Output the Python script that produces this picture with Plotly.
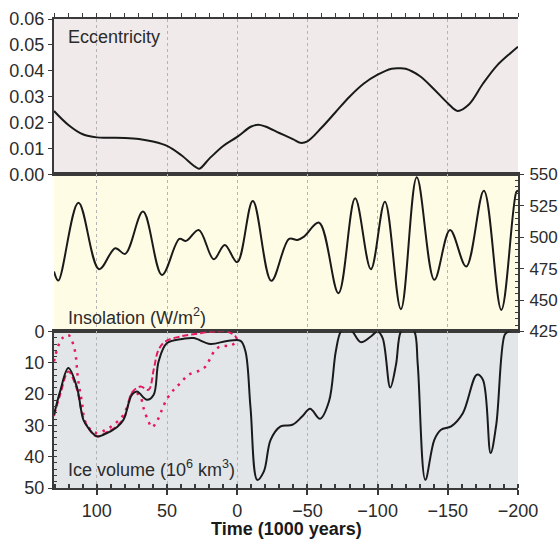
import plotly.graph_objects as go

# ---------------- data ----------------
ecc_t = [130.5, 120, 110, 100, 90, 80, 70, 60, 50, 40, 30, 27, 20, 10, 0, -10, -15, -20, -30, -40,
         -45, -50, -60, -70, -80, -90, -100, -110, -115, -120, -130, -140, -150, -157, -165, -175,
         -185, -195, -200]
ecc_v = [0.0245, 0.019, 0.0155, 0.0143, 0.0142, 0.0141, 0.0137, 0.0127, 0.011, 0.0075, 0.003, 0.0022,
         0.006, 0.011, 0.0145, 0.0185, 0.0192, 0.0185, 0.016, 0.0135, 0.0122, 0.0128, 0.018, 0.024,
         0.030, 0.035, 0.0385, 0.0408, 0.041, 0.0408, 0.038, 0.033, 0.0275, 0.0245, 0.027, 0.035,
         0.042, 0.047, 0.0493]

ins_t = [130.5, 127.4, 113.1, 98.4, 86.9, 79.8, 67.1, 53.6, 41.2, 36.4, 27.4, 16.7, 8.9, 0, -11.1,
         -24.3, -36.9, -42.9, -47.6, -58.3, -72.1, -84, -95.2, -105.2, -116.6, -127.9, -140.4,
         -151.6, -163.1, -175.7, -188.1, -198.8, -200]
ins_v = [472.7, 465.5, 527.5, 474.6, 491.3, 486.8, 520.4, 470, 498.7, 497.1, 505.8, 482.5, 493.9,
         480.2, 528.9, 465.3, 498.7, 497.9, 500.5, 511.6, 455.5, 531, 474.6, 528.3, 442.8, 547.7,
         466.1, 505.8, 476.7, 537, 442.2, 536, 537]

ice_t = [130.5, 126.2, 120.3, 114.3, 109.6, 106, 100, 95.3, 85.7, 81, 75, 71.4, 64.3, 59.5, 56, 50,
         38.1, 31, 19.1, 7.1, -2.4, -5.9, -9.5, -14.3, -19, -23.8, -30.9, -39.3, -46.4, -51.9, -59,
         -65.4, -70.2, -73.8, -78, -82.1, -88, -95.2, -100, -103.6, -109, -113.1, -116.6, -121.5,
         -126.2, -128.6, -134, -140.4, -145.2, -152.4, -160.7, -170.7, -175, -180.5, -184.5, -190.5,
         -193, -200]
ice_v = [26.6, 19.2, 11.7, 17.6, 28.2, 30.9, 33.5, 33, 30.6, 28.2, 20.2, 19.2, 21.8, 20.2, 9.6, 3.7,
         2.3, 2.1, 4.0, 3.0, 3.0, 6.4, 24.5, 47.4, 44.7, 34.6, 30.3, 29.8, 27.1, 24.7, 27.9, 22.3, 6.4,
         0, -1.5, 0, 3.4, 1.6, 0, 2.1, 17.9, 10.6, 0, -2, 0, 10.6, 47.4, 34.6, 31.4, 30.3, 26.1, 13.8,
         15.4, 38.8, 29.8, 1.1, 0, -1]

dash_t = [130.5, 126, 120.3, 114.5, 110, 105, 100, 92, 85, 80, 75, 69, 63.1, 59.5, 56, 51.2, 40.5,
          28.6, 16.7, 7.1, 1.2, 0]
dash_v = [27, 20, 12.8, 18, 27, 31.5, 33.5, 32, 30, 27, 19.5, 17.6, 18.6, 12.2, 5.8, 3.2, 1.6, 0.7,
          0, 0, 1.6, 3]

dot_t = [130.5, 128, 124.5, 120.3, 116.7, 114.8, 113.9, 112.4, 110.7, 108.4, 104, 100, 94, 88, 81,
         76, 73.8, 69, 66.7, 63, 60.7, 57, 53.6, 50, 45.2, 40.5, 34.6, 27.4, 22.6, 19.1, 15.5, 10.7,
         4.8, 0]
dot_v = [9.6, 5.3, 2.1, 1.1, 4.2, 8.5, 13.3, 18.1, 22.3, 28.7, 31.5, 32.4, 31.5, 29.8, 26.6, 21,
         19.2, 20.8, 24.5, 29, 30.6, 28.5, 25, 21.5, 18.6, 16.5, 13.8, 12.6, 11.2, 8.5, 5.8, 4.6,
         4.6, 3]

x_ticks = [100, 50, 0, -50, -100, -150, -200]

# ---------------- style ----------------
FONT = "Liberation Sans, Arial, sans-serif"
TXT = "#2b2b2b"
AX = "#3a3a3a"
BLACK = "#1a1a1a"
RED = "#e6195c"
BG = ["#f0eaea", "#fffce6", "#e2e6e9"]

d_ice = [0, 0.3337]
d_ins = [0.3337, 0.6686]
d_ecc = [0.6686, 1.0]
XR = [130.5, -200]

fig = go.Figure()
fig.add_trace(go.Scatter(x=ecc_t, y=ecc_v, xaxis="x", yaxis="y", mode="lines",
                         line=dict(color=BLACK, width=2, shape="spline"), showlegend=False))
fig.add_trace(go.Scatter(x=ins_t, y=ins_v, xaxis="x2", yaxis="y2", mode="lines",
                         line=dict(color=BLACK, width=2, shape="spline"), showlegend=False))
fig.add_trace(go.Scatter(x=dot_t, y=dot_v, xaxis="x3", yaxis="y3", mode="lines",
                         line=dict(color=RED, width=2.5, shape="spline", dash="2.5px,5.5px"),
                         showlegend=False))
fig.add_trace(go.Scatter(x=dash_t, y=dash_v, xaxis="x3", yaxis="y3", mode="lines",
                         line=dict(color=RED, width=2, shape="spline", dash="6px,3px"),
                         showlegend=False))
fig.add_trace(go.Scatter(x=ice_t, y=ice_v, xaxis="x3", yaxis="y3", mode="lines",
                         line=dict(color=BLACK, width=2, shape="spline"), showlegend=False))

common_x = dict(range=XR, showline=True, linecolor=AX, linewidth=2, mirror=True,
                tickvals=x_ticks, showgrid=True, gridcolor="#b4b4b4", griddash="dot",
                gridwidth=1, zeroline=False, fixedrange=True, automargin=False)
common_y = dict(showline=True, linecolor=AX, linewidth=2, showgrid=False, zeroline=False,
                automargin=False, fixedrange=True)
tickfont = dict(family=FONT, size=18, color=TXT)

fig.update_layout(
    width=558, height=539,
    margin=dict(l=54, r=40, t=19, b=51, autoexpand=False),
    paper_bgcolor="white", plot_bgcolor="rgba(0,0,0,0)",
    font=dict(family=FONT, color=TXT),
    xaxis=dict(common_x, anchor="y", side="top", showticklabels=False,
               ticks="outside", ticklen=4, tickcolor=AX,
               minor=dict(dtick=10, tick0=0, ticks="outside", ticklen=4, tickcolor=AX,
                          showgrid=False)),
    xaxis2=dict(common_x, anchor="y2", matches="x", showticklabels=False, ticks=""),
    xaxis3=dict(common_x, anchor="y3", matches="x", ticks="outside", ticklen=5, tickwidth=1.5,
                tickcolor=AX, tickfont=tickfont,
                minor=dict(dtick=10, tick0=0, ticks="inside", ticklen=4, tickcolor=AX,
                           showgrid=False)),
    yaxis=dict(common_y, domain=d_ecc, anchor="x", range=[0, 0.06], dtick=0.01, tickformat=".2f",
               ticks="outside", ticklen=4, tickcolor=AX, tickfont=tickfont),
    yaxis4=dict(common_y, domain=d_ecc, anchor="x", overlaying="y", side="right", range=[0, 0.06],
                dtick=0.01, ticks="inside", ticklen=4, tickcolor=AX, showticklabels=False),
    yaxis2=dict(common_y, domain=d_ins, anchor="x2", side="right", range=[425, 550], dtick=25,
                ticks="outside", ticklen=4, tickcolor=AX,
                tickfont=dict(family=FONT, size=17, color=TXT),
                ticklabelstandoff=2,
                minor=dict(dtick=5, ticks="inside", ticklen=3, tickcolor=AX, showgrid=False)),
    yaxis5=dict(common_y, domain=d_ins, anchor="x2", overlaying="y2", side="left", range=[425, 550],
                dtick=25, ticks="inside", ticklen=4, tickcolor=AX, showticklabels=False),
    yaxis3=dict(common_y, domain=d_ice, anchor="x3", range=[50, 0], dtick=10,
                ticks="outside", ticklen=4, tickcolor=AX, tickfont=tickfont,
                minor=dict(dtick=2, ticks="inside", ticklen=3, tickcolor=AX, showgrid=False)),
    yaxis6=dict(common_y, domain=d_ice, anchor="x3", overlaying="y3", side="right", range=[50, 0],
                dtick=10, ticks="inside", ticklen=4, tickcolor=AX, showticklabels=False,
                minor=dict(dtick=2, ticks="inside", ticklen=2, tickcolor=AX, showgrid=False)),
)

# panel backgrounds
for xr, yr, col in [("x", "y", BG[0]), ("x2", "y2", BG[1]), ("x3", "y3", BG[2])]:
    fig.add_shape(type="rect", xref=f"{xr} domain", yref=f"{yr} domain", x0=0, x1=1, y0=0, y1=1,
                  fillcolor=col, line=dict(width=0), layer="below")

labels = [
    ("Eccentricity", 0.9617),
    ("Insolation (W/m<sup>2</sup>)", 0.3657),
    ("Ice volume (10<sup>6</sup> km<sup>3</sup>)", 0.0411),
]
for txt, yy in labels:
    fig.add_annotation(text=txt, xref="paper", yref="paper", x=0.0252, y=yy,
                       xanchor="left", yanchor="middle", showarrow=False,
                       font=dict(family=FONT, size=18, color=TXT))

fig.add_annotation(text="<b>Time (1000 years)</b>", xref="paper", yref="paper", x=0.5, y=-0.088,
                   xanchor="center", yanchor="middle", showarrow=False,
                   font=dict(family=FONT, size=18, color="#1a1a1a"))

# remove the page's default body margin so the 558x539 figure fills the window exactly
fig.write_html("out.html", config={"displayModeBar": False},
               post_script="document.body.style.margin='0px';document.body.style.overflow='hidden';")
